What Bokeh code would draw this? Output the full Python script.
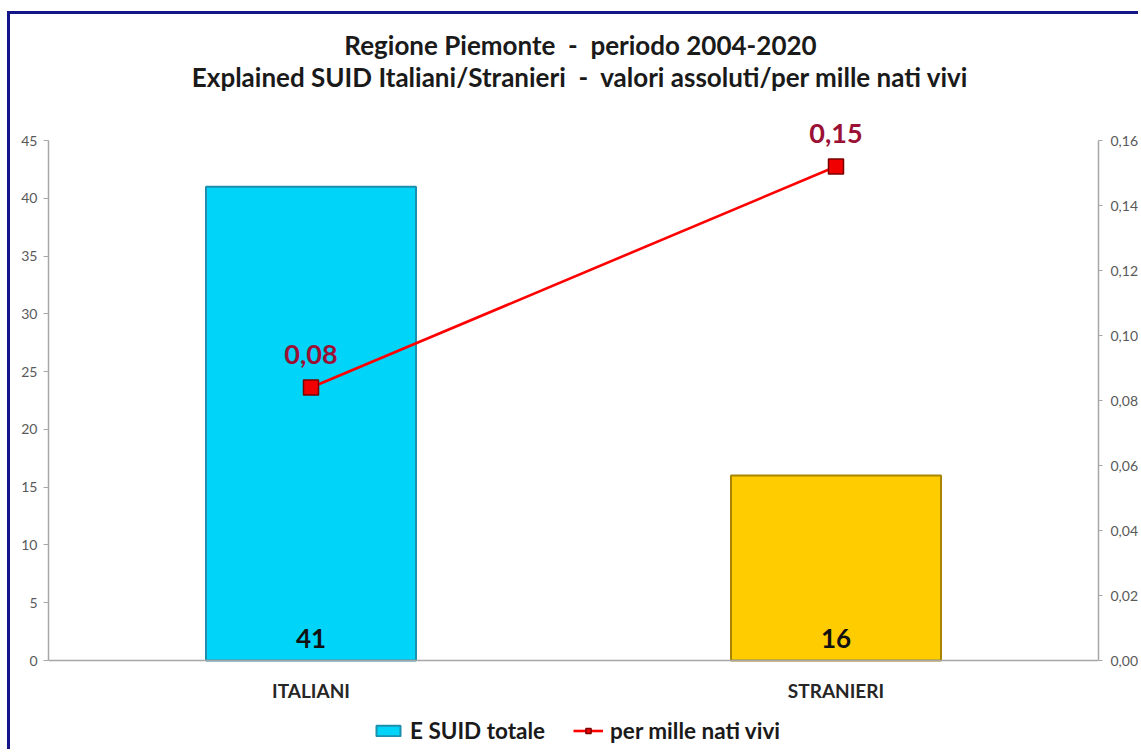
from bokeh.plotting import figure
from bokeh.models import (Range1d, LinearAxis, FactorRange, ColumnDataSource, Label, Span,
                          Legend, LegendItem, FixedTicker, CustomJSTickFormatter, LabelSet)
from bokeh.core.properties import value
from bokeh.embed import file_html
from bokeh.resources import INLINE

# ---- data ----
categories = ["ITALIANI", "STRANIERI"]
suid_totale = [41, 16]
per_mille = [0.084, 0.152]
per_mille_labels = ["0,08", "0,15"]
bar_colors = ["#00D4F8", "#FFCC00"]
bar_edges = ["#1C8FAE", "#A88400"]
left_ticks = [0, 5, 10, 15, 20, 25, 30, 35, 40, 45]
right_ticks = [0.0, 0.02, 0.04, 0.06, 0.08, 0.10, 0.12, 0.14, 0.16]
title_line1 = "Regione Piemonte \u00a0-\u00a0 periodo 2004-2020"
title_line2 = "Explained SUID Italiani/Stranieri \u00a0-\u00a0 valori assoluti/per mille nati vivi"

FONT = "Lato"

# ---- layout (pixels) ----
FIG_H = 738
TOP_PAD = 126      # frame top -> y=45
BOT_PAD = 92       # y=0 -> canvas bottom
PLOT_H = FIG_H - TOP_PAD - BOT_PAD
y_max, r_max = 45, 0.16
u_l = y_max / PLOT_H
u_r = r_max / PLOT_H

src = ColumnDataSource(dict(
    cat=categories, suid=suid_totale, suid_lbl=[str(v) for v in suid_totale],
    pm=per_mille, pm_lbl=per_mille_labels, color=bar_colors, edge=bar_edges,
    zero=[0] * len(categories),
))

p = figure(x_range=FactorRange(*categories, range_padding=0, factor_padding=0),
           y_range=Range1d(-BOT_PAD * u_l, y_max + TOP_PAD * u_l),
           width=1131, height=FIG_H, x_axis_location=None,
           output_backend="svg", toolbar_location=None,
           min_border_left=38, min_border_right=40, min_border_top=0, min_border_bottom=0)
p.styles = {"border-left": "3px solid #15158A", "border-top": "3px solid #15158A",
            "margin-top": "11px", "margin-left": "7px"}
p.background_fill_color = "white"
p.border_fill_color = "white"
p.outline_line_color = None
p.xgrid.grid_line_color = None
p.ygrid.grid_line_color = None

p.extra_y_ranges = {"right": Range1d(-BOT_PAD * u_r, r_max + TOP_PAD * u_r)}

ax_col = "#A6A6A6"
lab_col = "#595959"

# x baseline
p.add_layout(Span(location=0, dimension="width", line_color=ax_col, line_width=1.5))

# bars
bars = p.vbar(x="cat", top="suid", width=0.4, source=src, fill_color="color",
              line_color="edge", line_width=2)

# line
ln = p.line(x="cat", y="pm", source=src, y_range_name="right", line_color="#FF0000", line_width=2.6)
mk = p.scatter(x="cat", y="pm", source=src, y_range_name="right", marker="square", size=15,
               fill_color="#F00000", line_color="#7A0000", line_width=1.5)

# labels
p.add_layout(LabelSet(x="cat", y="pm", text="pm_lbl", source=src, y_range_name="right",
                      y_offset=24, text_align="center", text_baseline="bottom",
                      text_font=value(FONT), text_font_style="bold", text_font_size="27px",
                      text_color="#9B1035"))
p.add_layout(LabelSet(x="cat", y="zero", text="suid_lbl", source=src,
                      y_offset=13, text_align="center", text_baseline="bottom",
                      text_font=value(FONT), text_font_style="bold", text_font_size="26px",
                      text_color="#111111"))
# category labels
p.add_layout(LabelSet(x="cat", y="zero", text="cat", source=src,
                      y_offset=-30, text_align="center", text_baseline="middle",
                      text_font=value(FONT), text_font_style="bold", text_font_size="19px",
                      text_color="#262626"))

# axes
yl = p.yaxis[0]
yl.ticker = FixedTicker(ticks=left_ticks)
yl.bounds = (0, y_max)
yl.axis_line_color = ax_col
yl.axis_line_width = 1.5
yl.major_tick_line_color = ax_col
yl.minor_tick_line_color = None
yl.major_tick_in = 0
yl.major_tick_out = 5
yl.major_label_text_font = FONT
yl.major_label_text_font_size = "14px"
yl.major_label_text_color = lab_col
yl.major_label_standoff = 6

yr = LinearAxis(y_range_name="right", ticker=FixedTicker(ticks=right_ticks), bounds=(0, r_max),
                formatter=CustomJSTickFormatter(code="return tick.toFixed(2).replace('.', ',');"))
yr.axis_line_color = ax_col
yr.axis_line_width = 1.5
yr.major_tick_line_color = ax_col
yr.minor_tick_line_color = None
yr.major_tick_in = 0
yr.major_tick_out = 4
yr.major_label_text_font = FONT
yr.major_label_text_font_size = "14px"
yr.major_label_text_color = lab_col
yr.major_label_standoff = 8
p.add_layout(yr, "right")

# legend (bottom-left corner given relative to the frame)
legend = Legend(items=[LegendItem(label="E SUID totale", renderers=[bars], index=0),
                       LegendItem(label="per mille nati vivi", renderers=[ln, mk])],
                orientation="horizontal", location=(325, 8),
                label_text_font=FONT, label_text_font_style="bold",
                label_text_font_size="22.5px", label_text_color="#1A1A1A",
                glyph_width=30, glyph_height=13, label_standoff=7, spacing=28,
                padding=4, margin=0, border_line_color=None, background_fill_alpha=0)
p.add_layout(legend)

# titles
for txt, yy in [(title_line1, FIG_H - 30), (title_line2, FIG_H - 62)]:
    p.add_layout(Label(x=532, y=yy, x_units="screen", y_units="screen", text=txt,
                       text_align="center", text_baseline="middle", text_font=FONT,
                       text_font_style="bold", text_font_size="26px", text_color="#1A1A1A"))

open("out.html", "w").write(file_html(p, INLINE))
